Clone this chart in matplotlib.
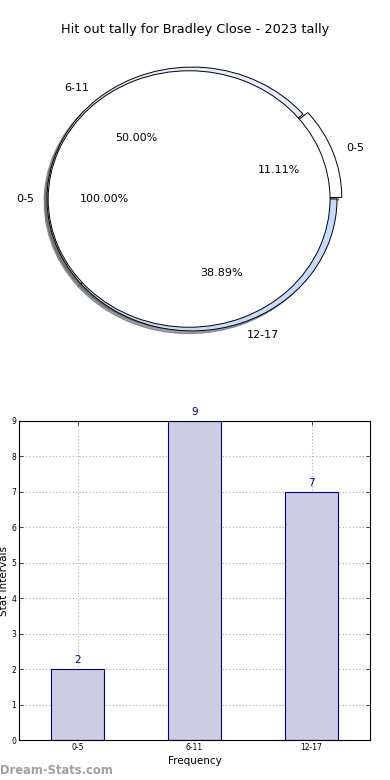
import matplotlib
matplotlib.use("Agg")
import matplotlib.pyplot as plt

# data
outer_labels = ["0-5", "6-11", "12-17"]
outer_counts = [2, 9, 7]
inner_labels = ["0-5"]
inner_counts = [1]

bar_labels = ["0-5", "6-11", "12-17"]
bar_values = [2, 9, 7]

TITLE = "Hit out tally for Bradley Close - 2023 tally"

fig = plt.figure(figsize=(3.9, 7.8), dpi=100)

# ---- nested pie ----
ax1 = fig.add_axes([3.5 / 390, 409.5 / 780, 377 / 390, 343 / 780])
shade = {"ox": -0.015, "oy": -0.015}
ax1.pie(outer_counts, labels=outer_labels, explode=[0.035, 0, 0],
        colors=["white", "#e4ecfd", "#c6dafb"], autopct="%1.2f%%",
        startangle=0, radius=1.0, shadow=shade,
        wedgeprops=dict(edgecolor="black", linewidth=0.7),
        textprops=dict(fontsize=8))
ax1.pie(inner_counts, labels=inner_labels, explode=[0.02],
        colors=["white"], autopct="%1.2f%%", startangle=0,
        radius=0.972, shadow=shade,
        wedgeprops=dict(edgecolor="black", linewidth=0.7),
        textprops=dict(fontsize=8))
ax1.set_aspect("auto")
ax1.set_xlim(-1.3, 1.3)
ax1.set_ylim(-1.3, 1.3)
ax1.axis("off")

fig.text(0.5, 1 - 30 / 780, TITLE, ha="center", va="center", fontsize=9.3)

# ---- bar chart ----
ax2 = fig.add_axes([19 / 390, 40 / 780, 351 / 390, 319 / 780])
x = list(range(len(bar_values)))
ax2.bar(x, bar_values, width=0.45, color="#ccccE3", edgecolor="#000080",
        linewidth=0.8, zorder=2)
for xi, v in zip(x, bar_values):
    ax2.text(xi, v + 0.12, str(v), ha="center", va="bottom",
             fontsize=7.5, color="#000080")
ax2.set_xlim(-0.5, 2.5)
ax2.set_ylim(0, 9)
ax2.set_xticks(x)
ax2.set_xticklabels(bar_labels)
ax2.set_yticks(range(0, 10))
ax2.tick_params(direction="in", length=3, width=0.5, labelsize=5.5,
                top=True, right=True, pad=2)
ax2.grid(True, linestyle=(0, (1, 2)), color="#aaaaaa", linewidth=0.8, zorder=0)
ax2.set_axisbelow(True)
for sp in ax2.spines.values():
    sp.set_linewidth(0.8)
ax2.set_xlabel("Frequency", fontsize=7.5, labelpad=3)
ax2.set_ylabel("Stat Intervals", fontsize=7.5, labelpad=2)

fig.text(0.0, 1 - 770 / 780, "Dream-Stats.com", ha="left", va="center",
         fontsize=8.3, color="#a0a0a0", fontweight="bold")

fig.savefig("out.png", dpi=100)
